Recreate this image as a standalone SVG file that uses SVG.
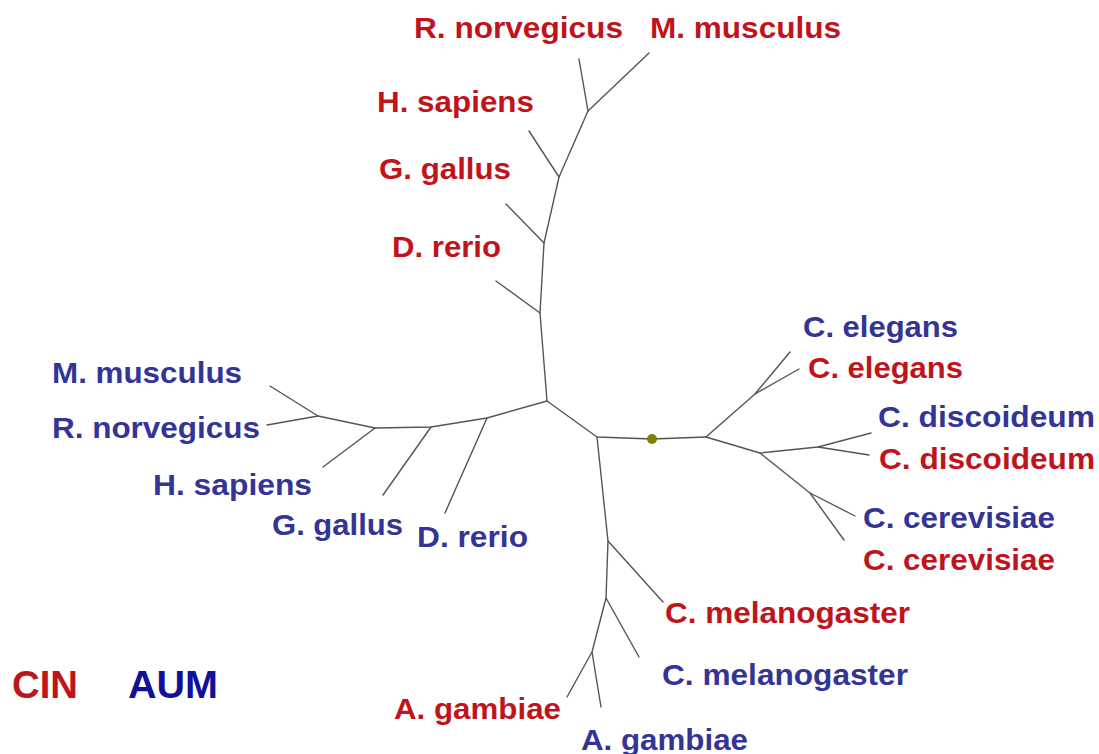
<svg xmlns="http://www.w3.org/2000/svg" width="1099" height="754" viewBox="0 0 1099 754">
<style>
.br{fill:none;stroke:#555;stroke-width:1.4;stroke-linejoin:round;stroke-linecap:round}
.lb{font-family:"Liberation Sans",Arial,sans-serif;font-weight:bold;font-size:30px}
.cin{fill:#C0141C}
.aum{fill:#343496}
.leg{font-family:"Liberation Sans",Arial,sans-serif;font-weight:bold;font-size:39px}
</style>
<rect width="1099" height="754" fill="#fff"/>
<g id="connectors" class="br">
<polyline points="547,401 540,313 544,243 559,177 588,111 649,53"/>
<line x1="588" y1="111" x2="579" y2="59"/>
<line x1="559" y1="177" x2="529" y2="131"/>
<line x1="544" y1="243" x2="506" y2="204"/>
<line x1="540" y1="313" x2="496" y2="281"/>
<polyline points="547,401 487,418 431,427 375,428 318,416 270,386"/>
<line x1="318" y1="416" x2="267" y2="425"/>
<line x1="375" y1="428" x2="323" y2="467"/>
<line x1="431" y1="427" x2="383" y2="495"/>
<line x1="487" y1="418" x2="445" y2="513"/>
<polyline points="547,401 597,437 652,439 706,437"/>
<polyline points="706,437 755,394 790,352"/>
<line x1="755" y1="394" x2="799" y2="369"/>
<polyline points="706,437 760,453 818,447 871,433"/>
<line x1="818" y1="447" x2="869" y2="455"/>
<polyline points="760,453 810,493 855,516"/>
<line x1="810" y1="493" x2="844" y2="540"/>
<polyline points="597,437 608,541 606,598 592,652 567,697"/>
<line x1="592" y1="652" x2="601" y2="707"/>
<line x1="608" y1="541" x2="663" y2="602"/>
<line x1="606" y1="598" x2="639" y2="657"/>
</g>
<g id="root-marker"><circle cx="652" cy="439" r="5" fill="#808000"/></g>
<g id="cin-r-norvegicus"><text class="lb cin" x="414" y="38" textLength="209" lengthAdjust="spacingAndGlyphs">R. norvegicus</text></g>
<g id="cin-m-musculus"><text class="lb cin" x="650" y="38" textLength="191" lengthAdjust="spacingAndGlyphs">M. musculus</text></g>
<g id="cin-h-sapiens"><text class="lb cin" x="377" y="112" textLength="157" lengthAdjust="spacingAndGlyphs">H. sapiens</text></g>
<g id="cin-g-gallus"><text class="lb cin" x="379" y="179" textLength="132" lengthAdjust="spacingAndGlyphs">G. gallus</text></g>
<g id="cin-d-rerio"><text class="lb cin" x="392" y="257" textLength="109" lengthAdjust="spacingAndGlyphs">D. rerio</text></g>
<g id="cin-c-elegans"><text class="lb cin" x="808" y="378" textLength="155" lengthAdjust="spacingAndGlyphs">C. elegans</text></g>
<g id="cin-c-discoideum"><text class="lb cin" x="879" y="469" textLength="216" lengthAdjust="spacingAndGlyphs">C. discoideum</text></g>
<g id="cin-c-cerevisiae"><text class="lb cin" x="863" y="570" textLength="192" lengthAdjust="spacingAndGlyphs">C. cerevisiae</text></g>
<g id="cin-c-melanogaster"><text class="lb cin" x="665" y="623" textLength="245" lengthAdjust="spacingAndGlyphs">C. melanogaster</text></g>
<g id="cin-a-gambiae"><text class="lb cin" x="394" y="719" textLength="167" lengthAdjust="spacingAndGlyphs">A. gambiae</text></g>
<g id="aum-m-musculus"><text class="lb aum" x="52" y="383" textLength="190" lengthAdjust="spacingAndGlyphs">M. musculus</text></g>
<g id="aum-r-norvegicus"><text class="lb aum" x="52" y="438" textLength="208" lengthAdjust="spacingAndGlyphs">R. norvegicus</text></g>
<g id="aum-h-sapiens"><text class="lb aum" x="153" y="495" textLength="159" lengthAdjust="spacingAndGlyphs">H. sapiens</text></g>
<g id="aum-g-gallus"><text class="lb aum" x="272" y="535" textLength="131" lengthAdjust="spacingAndGlyphs">G. gallus</text></g>
<g id="aum-d-rerio"><text class="lb aum" x="417" y="547" textLength="111" lengthAdjust="spacingAndGlyphs">D. rerio</text></g>
<g id="aum-c-elegans"><text class="lb aum" x="803" y="337" textLength="155" lengthAdjust="spacingAndGlyphs">C. elegans</text></g>
<g id="aum-c-discoideum"><text class="lb aum" x="878" y="427" textLength="217" lengthAdjust="spacingAndGlyphs">C. discoideum</text></g>
<g id="aum-c-cerevisiae"><text class="lb aum" x="863" y="528" textLength="192" lengthAdjust="spacingAndGlyphs">C. cerevisiae</text></g>
<g id="aum-c-melanogaster"><text class="lb aum" x="662" y="685" textLength="246" lengthAdjust="spacingAndGlyphs">C. melanogaster</text></g>
<g id="aum-a-gambiae"><text class="lb aum" x="581" y="750" textLength="167" lengthAdjust="spacingAndGlyphs">A. gambiae</text></g>
<g id="legend">
<text class="leg" x="12" y="698" fill="#C0141C" textLength="66" lengthAdjust="spacingAndGlyphs">CIN</text>
<text class="leg" x="128" y="698" fill="#10109A" textLength="90" lengthAdjust="spacingAndGlyphs">AUM</text>
</g>
</svg>
